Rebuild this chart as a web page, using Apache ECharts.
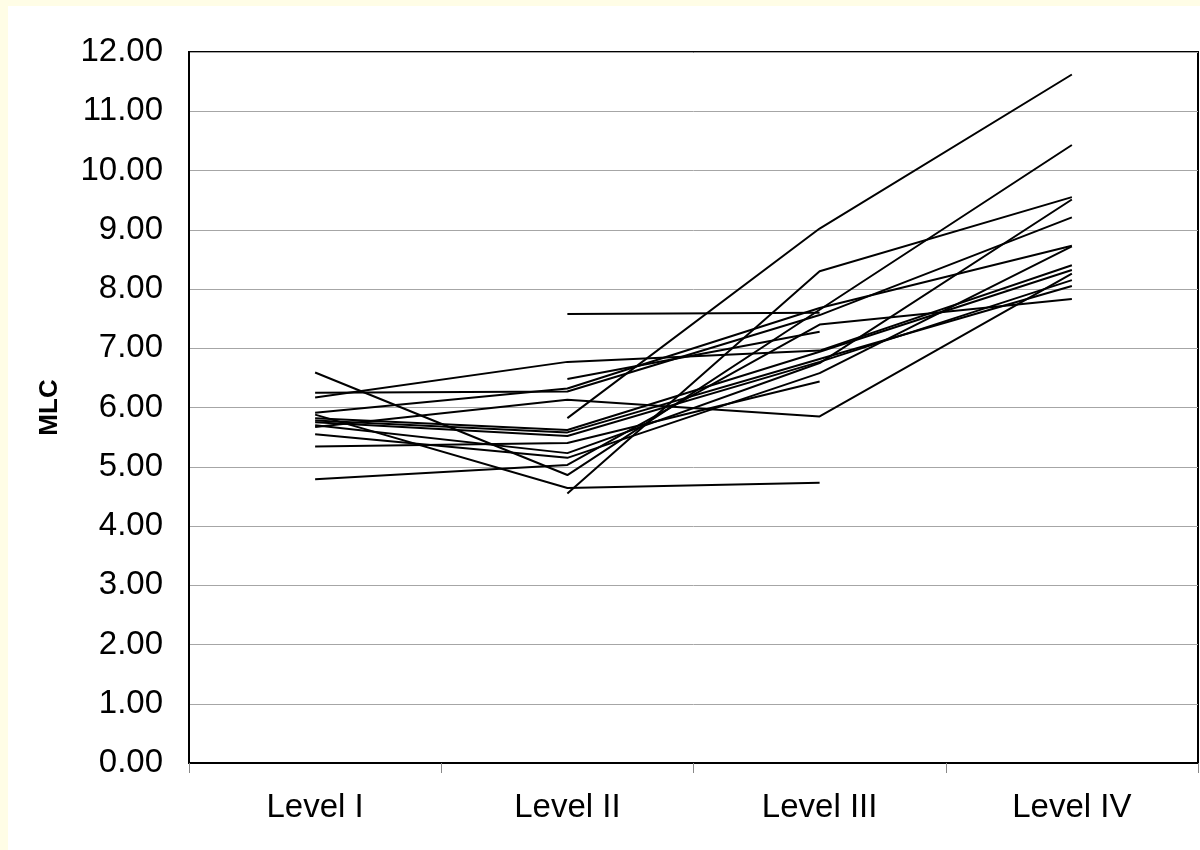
<!DOCTYPE html>
<html>
<head>
<meta charset="utf-8">
<script src="https://cdn.jsdelivr.net/npm/echarts@6/dist/echarts.min.js"></script>
<style>
html,body{margin:0;padding:0;background:#fff;}
#c{width:1200px;height:850px;}
</style>
</head>
<body>
<div id="c"></div>
<script>
var categories = ['Level I', 'Level II', 'Level III', 'Level IV'];
var yTicks = {min: 0, max: 12, interval: 1};

var s1  = [6.17, 6.77, 6.96, 8.40];
var s2  = [6.25, 6.27, 7.56, 9.21];
var s3  = [5.91, 6.32, 7.68, 8.73];
var s4  = [5.88, 4.64, 4.73, null];
var s5  = [6.59, 4.86, 7.65, 10.43];
var s6  = [5.67, 6.13, 5.85, 8.26];
var s7  = [5.82, 5.62, 6.94, 8.32];
var s8  = [5.78, 5.58, 6.82, 8.05];
var s9  = [5.75, 5.52, 6.77, 8.15];
var s10 = [5.70, 5.23, 6.75, 9.51];
var s11 = [5.55, 5.15, 6.58, 8.72];
var s12 = [5.34, 5.40, 6.44, null];
var s13 = [4.79, 5.03, 7.40, 7.83];
var s14 = [null, 7.58, 7.60, null];
var s15 = [null, 6.48, 7.28, null];
var s16 = [null, 5.82, 9.02, 11.62];
var s17 = [null, 4.55, 8.30, 9.55];

var allSeries = [s1, s2, s3, s4, s5, s6, s7, s8, s9, s10, s11, s12, s13, s14, s15, s16, s17];

var chart = echarts.init(document.getElementById('c'), null, {renderer: 'canvas'});
var FONT = '"Liberation Sans", Arial, sans-serif';

chart.setOption({
  animation: false,
  backgroundColor: '#ffffff',
  graphic: [
    {type: 'rect', shape: {x: 0, y: 0, width: 1200, height: 6}, style: {fill: '#FFFDE6'}, silent: true},
    {type: 'rect', shape: {x: 0, y: 0, width: 8, height: 850}, style: {fill: '#FFFDE6'}, silent: true}
  ],
  grid: {
    left: 189, right: 2, top: 52, bottom: 87,
    show: true, borderColor: '#000', borderWidth: 2, backgroundColor: 'transparent'
  },
  xAxis: {
    type: 'category',
    data: categories,
    boundaryGap: true,
    axisLine: {show: true, lineStyle: {color: '#000', width: 2}},
    axisTick: {show: true, length: 10, lineStyle: {color: '#888', width: 1}},
    axisLabel: {color: '#000', fontFamily: FONT, fontSize: 33, margin: 28},
    splitLine: {show: false}
  },
  yAxis: {
    type: 'value',
    min: yTicks.min, max: yTicks.max, interval: yTicks.interval,
    name: 'MLC',
    nameLocation: 'middle',
    nameGap: 126,
    nameTextStyle: {color: '#000', fontFamily: FONT, fontSize: 26, fontWeight: 'bold'},
    axisLine: {show: true, lineStyle: {color: '#000', width: 2}},
    axisTick: {show: false},
    axisLabel: {
      color: '#000', fontFamily: FONT, fontSize: 33, margin: 26,
      formatter: function (v) { return v.toFixed(2); }
    },
    splitLine: {show: true, lineStyle: {color: '#a6a6a6', width: 1}}
  },
  series: allSeries.map(function (d, i) {
    return {
      name: 'S' + (i + 1),
      type: 'line',
      data: d,
      showSymbol: false,
      symbol: 'none',
      connectNulls: false,
      lineStyle: {color: '#000', width: 2},
      itemStyle: {color: '#000'},
      silent: true
    };
  })
});
</script>
</body>
</html>
